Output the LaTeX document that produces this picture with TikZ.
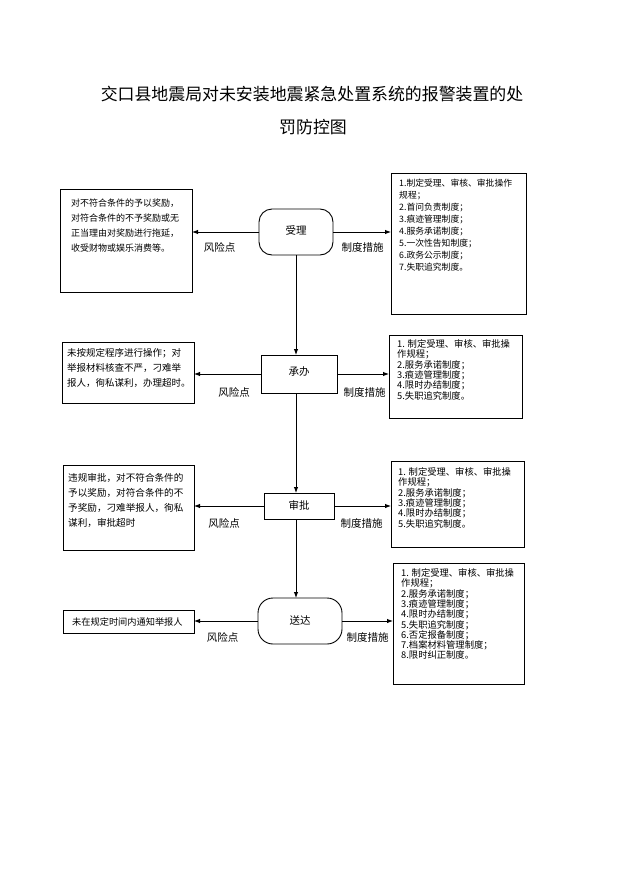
\documentclass[tikz,border=0pt]{standalone}
\usepackage{fontspec}
\setmainfont{Noto Sans CJK SC}
\usetikzlibrary{arrows.meta}
\begin{document}
\begin{tikzpicture}[x=1pt,y=-1pt,
 box/.style={draw, line width=0.8pt, inner sep=0pt, outer sep=0pt, anchor=north west},
 txt/.style={inner sep=0pt, anchor=north west, align=left},
 proc/.style={draw, line width=0.9pt, inner sep=0pt, outer sep=0pt, font=\fontsize{10.5}{12}\selectfont},
 arr/.style={line width=0.9pt, -{Latex[length=6pt,width=4.5pt]}},
 lbl/.style={font=\fontsize{10.5}{12}\selectfont, inner sep=0pt},
 ttl/.style={font=\fontsize{16.9}{20}\selectfont, inner sep=0pt}
]
\fill[white] (0,0) rectangle (621,878);
\useasboundingbox (0,0) rectangle (621,878);

% title
\node[ttl] (t1) at (312,94) {交口县地震局对未安装地震紧急处置系统的报警装置的处};
\node[ttl] (t2) at (313,127) {罚防控图};

% process nodes
\node[proc, rounded corners=13pt, minimum width=74pt, minimum height=46pt] (n1) at (296,232) {\raisebox{3pt}{受理}};
\node[proc, minimum width=76pt, minimum height=38pt] (n2) at (299,374) {\raisebox{5pt}{承办}};
\node[proc, minimum width=70pt, minimum height=26pt] (n3) at (299,506) {\raisebox{1pt}{审批}};
\node[proc, rounded corners=15pt, minimum width=84pt, minimum height=46pt] (n4) at (300,621) {\raisebox{2pt}{送达}};
\coordinate (vx) at (296,0);

% left boxes
\node[box, minimum width=132pt, minimum height=103pt] (lb1) at (60,189) {};
\node[box, minimum width=132pt, minimum height=61pt] (lb2) at (62,342) {};
\node[box, minimum width=131pt, minimum height=85pt] (lb3) at (63,465) {};
\node[box, minimum width=131pt, minimum height=23pt] (lb4) at (63,610) {};

\node[txt, font=\fontsize{9}{15}\selectfont] (lb1t) at (71,198.5) {对不符合条件的予以奖励，\\对符合条件的不予奖励或无\\正当理由对奖励进行拖延，\\收受财物或娱乐消费等。};
\node[txt, font=\fontsize{9.5}{15}\selectfont] (lb2t) at (67,348.5) {未按规定程序进行操作；对\\举报材料核查不严，刁难举\\报人，徇私谋利，办理超时。};
\node[txt, font=\fontsize{9.6}{15}\selectfont] (lb3t) at (68,473.5) {违规审批，对不符合条件的\\予以奖励，对符合条件的不\\予奖励，刁难举报人，徇私\\谋利，审批超时};
\node[txt, font=\fontsize{9.2}{12}\selectfont] (lb4t) at (72,617.5) {未在规定时间内通知举报人};

% right boxes
\node[box, minimum width=135pt, minimum height=141pt] (rb1) at (391,173) {};
\node[box, minimum width=133pt, minimum height=83pt] (rb2) at (389,335) {};
\node[box, minimum width=133pt, minimum height=86pt] (rb3) at (391,461) {};
\node[box, minimum width=131pt, minimum height=121pt] (rb4) at (393,563) {};

\node[txt, font=\fontsize{8.8}{12}\selectfont] (rb1t) at (399,178.6) {1.制定受理、审核、审批操作\\规程；\\2.首问负责制度；\\3.痕迹管理制度；\\4.服务承诺制度；\\5.一次性告知制度；\\6.政务公示制度；\\7.失职追究制度。};
\node[txt, font=\fontsize{9.3}{10.3}\selectfont] (rb2t) at (397,339.5) {1. 制定受理、审核、审批操\\作规程；\\2.服务承诺制度；\\3.痕迹管理制度；\\4.限时办结制度；\\5.失职追究制度。};
\node[txt, font=\fontsize{9.3}{10.3}\selectfont] (rb3t) at (398,467.5) {1. 制定受理、审核、审批操\\作规程；\\2.服务承诺制度；\\3.痕迹管理制度；\\4.限时办结制度；\\5.失职追究制度。};
\node[txt, font=\fontsize{9.3}{10.3}\selectfont] (rb4t) at (401,568.5) {1. 制定受理、审核、审批操\\作规程；\\2.服务承诺制度；\\3.痕迹管理制度；\\4.限时办结制度；\\5.失职追究制度；\\6.否定报备制度；\\7.档案材料管理制度；\\8.限时纠正制度。};

% vertical arrows
\draw[arr] (vx |- n1.south) -- (vx |- n2.north);
\draw[arr] (vx |- n2.south) -- (vx |- n3.north);
\draw[arr] (vx |- n3.south) -- (vx |- n4.north);

% horizontal arrows
\draw[arr] (n1.west) -- (lb1.east |- n1.west);
\draw[arr] (n1.east) -- (rb1.west |- n1.east);
\draw[arr] (n2.west) -- (lb2.east |- n2.west);
\draw[arr] (n2.east) -- (rb2.west |- n2.east);
\draw[arr] (n3.west) -- (lb3.east |- n3.west);
\draw[arr] (n3.east) -- (rb3.west |- n3.east);
\draw[arr] (n4.west) -- (lb4.east |- n4.west);
\draw[arr] (n4.east) -- (rb4.west |- n4.east);

% labels
\node[lbl] (r1) at (219.5,247) {风险点};
\node[lbl] (c1) at (362.5,247) {制度措施};
\node[lbl] (r2) at (234,392) {风险点};
\node[lbl] (c2) at (364.5,392) {制度措施};
\node[lbl] (r3) at (224,523) {风险点};
\node[lbl] (c3) at (361.5,523) {制度措施};
\node[lbl] (r4) at (222.5,637) {风险点};
\node[lbl] (c4) at (367.5,637) {制度措施};
\end{tikzpicture}
\end{document}
